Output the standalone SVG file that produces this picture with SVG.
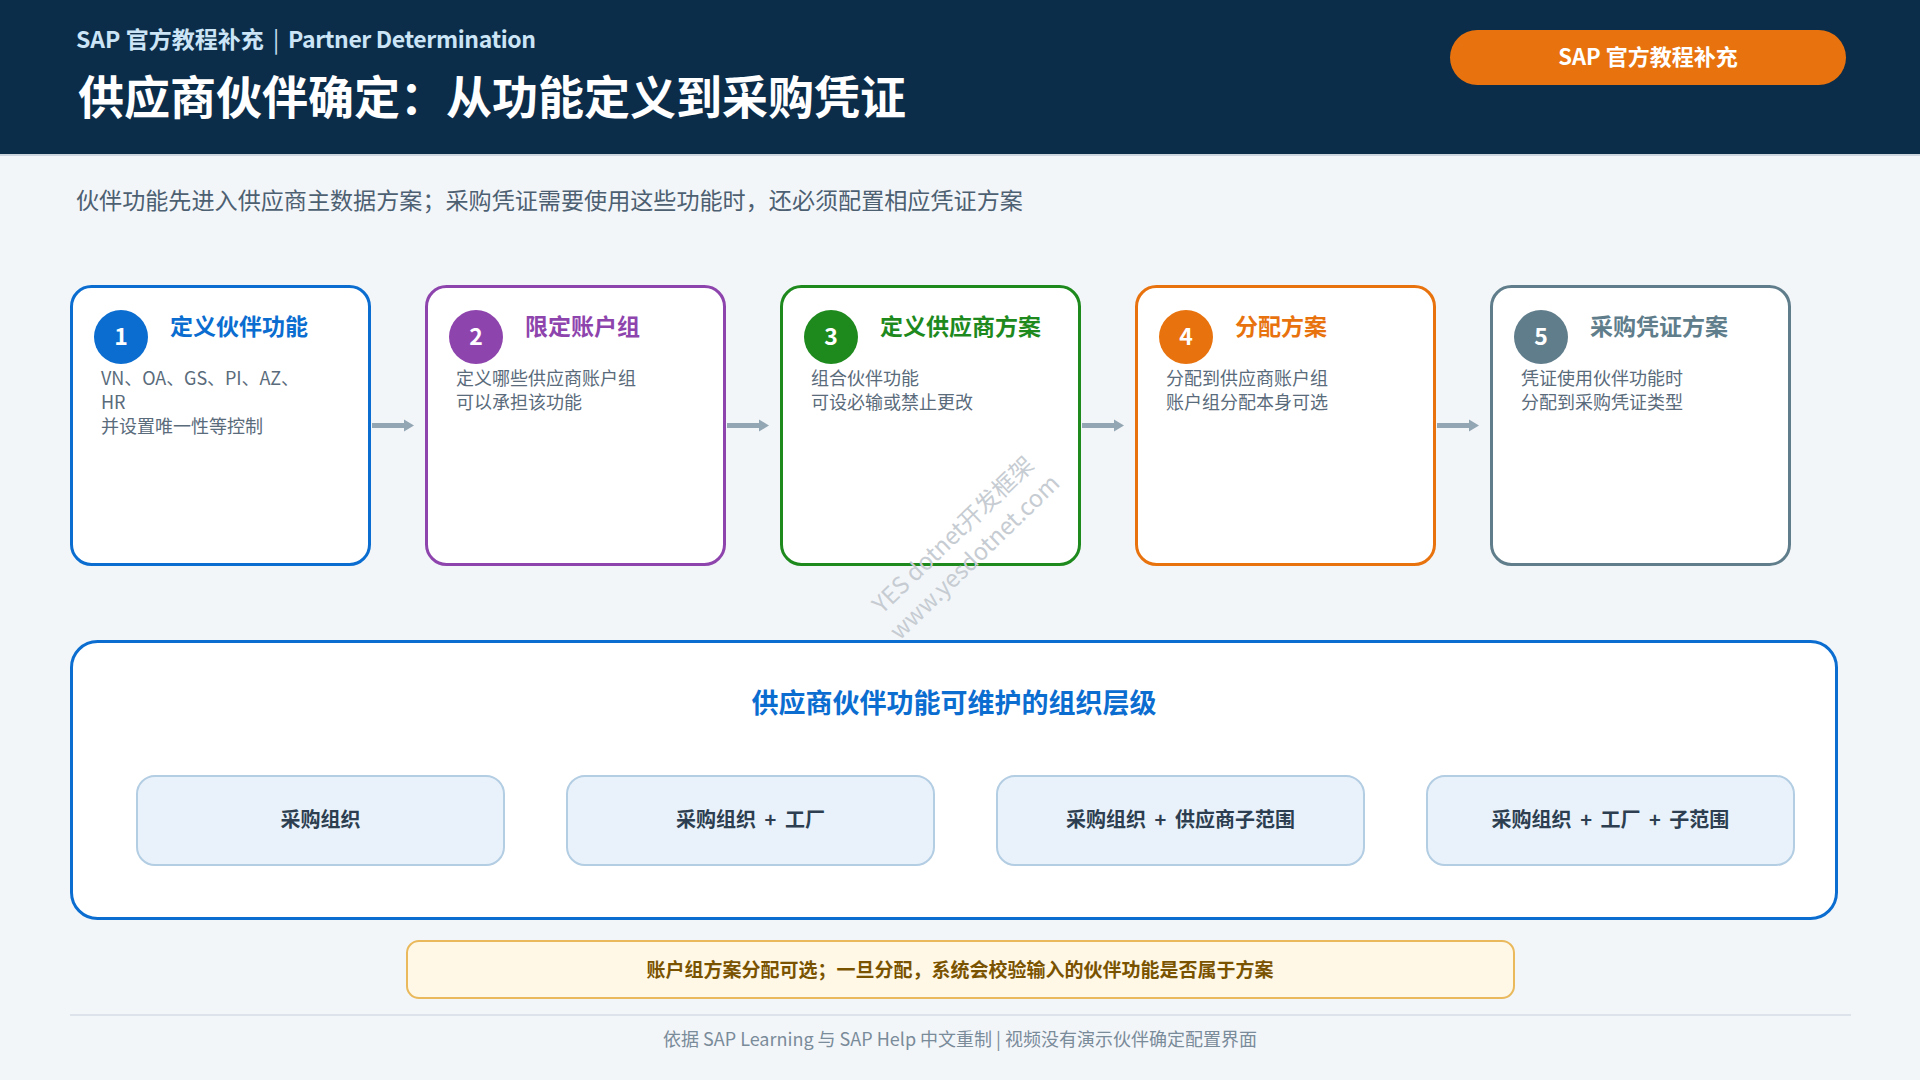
<svg xmlns="http://www.w3.org/2000/svg" width="1920" height="1080" viewBox="0 0 1920 1080">
<defs>
<style>
text{font-family:"Noto Sans CJK SC","Noto Sans",sans-serif}
.card{fill:#ffffff;stroke-width:3}
.ctitle{font-size:23px;font-weight:700}
.cdesc{font-size:18px;fill:#5a6b7b}
.num{font-size:23px;font-weight:700;fill:#ffffff;text-anchor:middle}
.lvl{fill:#e9f2fb;stroke:#b3cde3;stroke-width:2}
.lvlt{font-size:20px;font-weight:700;fill:#2c3e50;text-anchor:middle;word-spacing:4px}
.conn{stroke:#93a6b3;stroke-width:5;fill:none}
.conn2{stroke:#9badb9;stroke-width:4;fill:none}
</style>
<marker id="ah" markerUnits="userSpaceOnUse" markerWidth="12" markerHeight="14" refX="1" refY="7" orient="auto">
<path d="M1,1 L11,7 L1,13 Z" fill="#93a6b3"/>
</marker>
<marker id="ah2" markerUnits="userSpaceOnUse" markerWidth="10" markerHeight="12" refX="1" refY="6" orient="auto">
<path d="M1,1.5 L8,6 L1,10.5 Z" fill="#9badb9"/>
</marker>
</defs>
<rect x="0" y="0" width="1920" height="1080" fill="#f3f6f9"/>
<g id="header">
<rect x="0" y="0" width="1920" height="155" fill="#0c2d4a"/>
<rect x="0" y="154" width="1920" height="2" fill="#cdd6df"/>
<text x="76" y="48" font-size="23" font-weight="700" fill="#cbe4f6">SAP 官方教程补充</text>
<text x="276" y="48" font-size="23" font-weight="400" fill="#cbe4f6" text-anchor="middle">|</text>
<text x="288" y="48" font-size="23" font-weight="700" fill="#cbe4f6" textLength="248" lengthAdjust="spacing">Partner Determination</text>
<text x="78" y="114" font-size="46" font-weight="700" fill="#ffffff">供应商伙伴确定：从功能定义到采购凭证</text>
<rect x="1450" y="30" width="396" height="55" rx="27.5" fill="#e8730e"/>
<text x="1648" y="65" font-size="22" font-weight="700" fill="#ffffff" text-anchor="middle">SAP 官方教程补充</text>
</g>
<text id="intro" x="76" y="209" font-size="23.1" fill="#4d6072">伙伴功能先进入供应商主数据方案；采购凭证需要使用这些功能时，还必须配置相应凭证方案</text>

<g id="connectors">
<line class="conn" x1="372" y1="425.5" x2="404" y2="425.5" marker-end="url(#ah)"/>
<line class="conn" x1="727" y1="425.5" x2="759" y2="425.5" marker-end="url(#ah)"/>
<line class="conn" x1="1082" y1="425.5" x2="1114" y2="425.5" marker-end="url(#ah)"/>
<line class="conn" x1="1437" y1="425.5" x2="1469" y2="425.5" marker-end="url(#ah)"/>
<line class="conn2" x1="506" y1="820.5" x2="532" y2="820.5" marker-end="url(#ah2)"/>
<line class="conn2" x1="936" y1="820.5" x2="962" y2="820.5" marker-end="url(#ah2)"/>
<line class="conn2" x1="1366" y1="820.5" x2="1392" y2="820.5" marker-end="url(#ah2)"/>
</g>

<g id="card1">
<rect class="card" x="71.5" y="286.5" width="298" height="278" rx="20" stroke="#0b6dd0"/>
<circle cx="121" cy="337" r="27" fill="#0b6dd0"/>
<text class="num" x="121" y="345">1</text>
<text class="ctitle" x="170" y="335" fill="#0b6dd0">定义伙伴功能</text>
<text class="cdesc" x="101" y="385" textLength="198" lengthAdjust="spacing">VN、OA、GS、PI、AZ、</text>
<text class="cdesc" x="101" y="409">HR</text>
<text class="cdesc" x="101" y="433">并设置唯一性等控制</text>
</g>
<g id="card2">
<rect class="card" x="426.5" y="286.5" width="298" height="278" rx="20" stroke="#8e44ad"/>
<circle cx="476" cy="337" r="27" fill="#8e44ad"/>
<text class="num" x="476" y="345">2</text>
<text class="ctitle" x="525" y="335" fill="#8e44ad">限定账户组</text>
<text class="cdesc" x="456" y="385">定义哪些供应商账户组</text>
<text class="cdesc" x="456" y="409">可以承担该功能</text>
</g>
<g id="card3">
<rect class="card" x="781.5" y="286.5" width="298" height="278" rx="20" stroke="#1e8a1e"/>
<circle cx="831" cy="337" r="27" fill="#1e8a1e"/>
<text class="num" x="831" y="345">3</text>
<text class="ctitle" x="880" y="335" fill="#1e8a1e">定义供应商方案</text>
<text class="cdesc" x="811" y="385">组合伙伴功能</text>
<text class="cdesc" x="811" y="409">可设必输或禁止更改</text>
</g>
<g id="card4">
<rect class="card" x="1136.5" y="286.5" width="298" height="278" rx="20" stroke="#e8730e"/>
<circle cx="1186" cy="337" r="27" fill="#e8730e"/>
<text class="num" x="1186" y="345">4</text>
<text class="ctitle" x="1235" y="335" fill="#e8730e">分配方案</text>
<text class="cdesc" x="1166" y="385">分配到供应商账户组</text>
<text class="cdesc" x="1166" y="409">账户组分配本身可选</text>
</g>
<g id="card5">
<rect class="card" x="1491.5" y="286.5" width="298" height="278" rx="20" stroke="#607d8b"/>
<circle cx="1541" cy="337" r="27" fill="#607d8b"/>
<text class="num" x="1541" y="345">5</text>
<text class="ctitle" x="1590" y="335" fill="#607d8b">采购凭证方案</text>
<text class="cdesc" x="1521" y="385">凭证使用伙伴功能时</text>
<text class="cdesc" x="1521" y="409">分配到采购凭证类型</text>
</g>

<g id="watermark" transform="translate(963,545) rotate(-44)" fill="#c6ccd2" font-size="23.5" text-anchor="middle">
<text x="0" y="-6">YES dotnet开发框架</text>
<text x="0" y="25">www.yesdotnet.com</text>
</g>

<g id="levels-panel">
<rect x="71.5" y="641.5" width="1765" height="277" rx="26" fill="#ffffff" stroke="#0b6dd0" stroke-width="3"/>
<text x="954" y="713" font-size="27" font-weight="700" fill="#0b6dd0" text-anchor="middle">供应商伙伴功能可维护的组织层级</text>
</g>
<g id="level1">
<rect class="lvl" x="137" y="776" width="367" height="89" rx="18"/>
<text class="lvlt" x="320.5" y="827">采购组织</text>
</g>
<g id="level2">
<rect class="lvl" x="567" y="776" width="367" height="89" rx="18"/>
<text class="lvlt" x="750.5" y="827">采购组织 + 工厂</text>
</g>
<g id="level3">
<rect class="lvl" x="997" y="776" width="367" height="89" rx="18"/>
<text class="lvlt" x="1180.5" y="827">采购组织 + 供应商子范围</text>
</g>
<g id="level4">
<rect class="lvl" x="1427" y="776" width="367" height="89" rx="18"/>
<text class="lvlt" x="1610.5" y="827">采购组织 + 工厂 + 子范围</text>
</g>

<g id="note">
<rect x="407" y="941" width="1107" height="57" rx="12" fill="#fff8e7" stroke="#e9b95c" stroke-width="2"/>
<text x="960" y="977" font-size="19" font-weight="700" fill="#7a5300" text-anchor="middle">账户组方案分配可选；一旦分配，系统会校验输入的伙伴功能是否属于方案</text>
</g>
<rect x="70" y="1014" width="1781" height="2" fill="#dde3ea"/>
<text id="footer" x="960" y="1046" font-size="18" fill="#7a8b9a" text-anchor="middle">依据 SAP Learning 与 SAP Help 中文重制 | 视频没有演示伙伴确定配置界面</text>
</svg>
